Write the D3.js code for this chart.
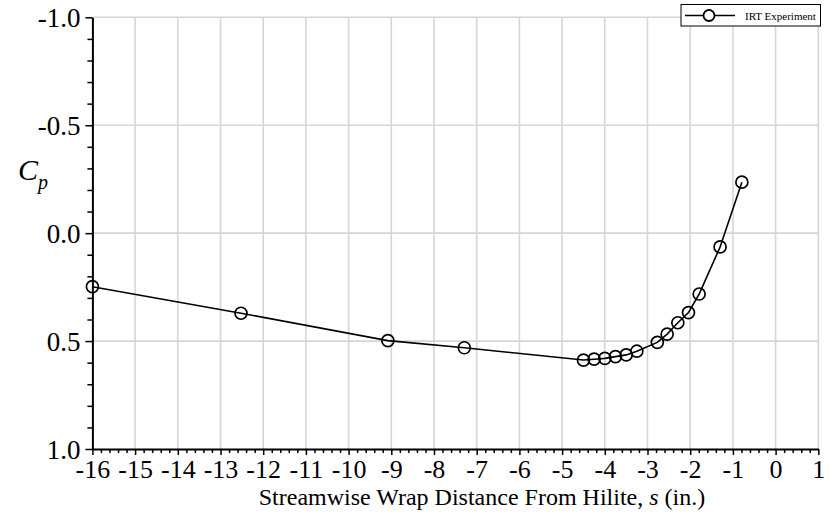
<!DOCTYPE html>
<html>
<head>
<meta charset="utf-8">
<script src="https://cdn.jsdelivr.net/npm/d3@7/dist/d3.min.js"></script>
<style>
  html, body { margin: 0; padding: 0; background: #fff; }
  svg { display: block; }
</style>
</head>
<body>
<svg id="chart" width="830" height="517"></svg>
<script>
// Streamwise wrap distance (in.) and pressure coefficient for the IRT experiment
const sValues = [-16.0, -12.52, -9.08, -7.29, -4.5, -4.25, -4.0, -3.75, -3.5, -3.25, -2.77, -2.54, -2.29, -2.04, -1.79, -1.30, -0.79];
const cpValues = [0.248, 0.371, 0.498, 0.531, 0.588, 0.584, 0.580, 0.572, 0.564, 0.547, 0.506, 0.468, 0.415, 0.368, 0.282, 0.064, -0.236];
const xTickValues = [-16, -15, -14, -13, -12, -11, -10, -9, -8, -7, -6, -5, -4, -3, -2, -1, 0, 1];
const yTickValues = [-1.0, -0.5, 0.0, 0.5, 1.0];
const seriesName = "IRT Experiment";

const FONT = "'Liberation Serif', 'Times New Roman', Times, 'DejaVu Serif', serif";
const svg = d3.select("#chart").style("font-family", FONT);
const plotLeft = 92.4, plotRight = 818.3, plotTop = 17.3, plotBottom = 449;

const x = d3.scaleLinear().domain([-16, 1]).range([plotLeft, plotRight]);
const y = d3.scaleLinear().domain([-1, 1]).range([plotTop, plotBottom]);

// grid lines at major ticks
const grid = svg.append("g").attr("stroke", "#d6d6d6").attr("stroke-width", 1.6);
grid.selectAll("line.vx").data(xTickValues.slice(1)).join("line")
  .attr("x1", d => x(d)).attr("x2", d => x(d)).attr("y1", plotTop).attr("y2", plotBottom);
grid.selectAll("line.hy").data(yTickValues.slice(0, -1)).join("line")
  .attr("x1", plotLeft).attr("x2", plotRight).attr("y1", d => y(d)).attr("y2", d => y(d));

// minor ticks
const xMinor = d3.range(-16, 1.0001, 0.2).filter(v => Math.abs(v - Math.round(v)) > 1e-6);
const yMinor = d3.range(-1, 1.0001, 0.1).filter(v => Math.abs(v * 2 - Math.round(v * 2)) > 1e-6);

// plain hyphen for negative numbers
const fmtX = d => String(d);
const fmtY = d => d.toFixed(1);

const xAxis = svg.append("g").attr("transform", `translate(0,${plotBottom})`)
  .call(d3.axisBottom(x).tickValues(xTickValues).tickFormat(fmtX).tickSizeInner(6).tickSizeOuter(0));
svg.append("g").attr("transform", `translate(0,${plotBottom})`)
  .call(d3.axisBottom(x).tickValues(xMinor).tickFormat("").tickSizeInner(4).tickSizeOuter(0))
  .call(g => g.select(".domain").remove());

const yAxis = svg.append("g").attr("transform", `translate(${plotLeft},0)`)
  .call(d3.axisLeft(y).tickValues(yTickValues).tickFormat(fmtY).tickSizeInner(7).tickSizeOuter(0).tickPadding(5));
svg.append("g").attr("transform", `translate(${plotLeft},0)`)
  .call(d3.axisLeft(y).tickValues(yMinor).tickFormat("").tickSizeInner(5).tickSizeOuter(0))
  .call(g => g.select(".domain").remove());

svg.selectAll("g").attr("font-family", null);
svg.selectAll(".tick line").attr("stroke", "#000").attr("stroke-width", 1.5);
svg.selectAll(".domain").attr("stroke", "#000").attr("stroke-width", 2);
xAxis.selectAll("text").style("font-family", FONT).style("font-size", "26px").attr("fill", "#000")
  .attr("y", 29).attr("dy", null);
yAxis.selectAll("text").style("font-family", FONT).style("font-size", "27px").attr("fill", "#000").attr("dy", "0.34em");

// axis titles
const xt = svg.append("text").attr("x", 482).attr("y", 505)
  .attr("text-anchor", "middle").style("font-family", FONT).style("font-size", "24px");
xt.append("tspan").text("Streamwise Wrap Distance From Hilite, ");
xt.append("tspan").attr("font-style", "italic").text("s");
xt.append("tspan").text(" (in.)");

const yt = svg.append("text").attr("x", 18).attr("y", 180).style("font-family", FONT).style("font-size", "30px").attr("font-style", "italic");
yt.append("tspan").text("C");
yt.append("tspan").style("font-size", "20px").attr("dy", 9).text("p");

// data series
const pts = sValues.map((s, i) => [s, cpValues[i]]);
svg.append("path").datum(pts)
  .attr("fill", "none").attr("stroke", "#000").attr("stroke-width", 1.6)
  .attr("d", d3.line().x(d => x(d[0])).y(d => y(d[1])));
svg.append("g").selectAll("circle").data(pts).join("circle")
  .attr("cx", d => x(d[0])).attr("cy", d => y(d[1])).attr("r", 6)
  .attr("fill", "none").attr("stroke", "#000").attr("stroke-width", 1.7);

// legend
const lg = svg.append("g");
lg.append("rect").attr("x", 681).attr("y", 4.5).attr("width", 139.5).attr("height", 21.5)
  .attr("fill", "#fff").attr("stroke", "#000").attr("stroke-width", 1);
lg.append("line").attr("x1", 685).attr("x2", 735).attr("y1", 15.5).attr("y2", 15.5)
  .attr("stroke", "#000").attr("stroke-width", 1.6);
lg.append("circle").attr("cx", 709).attr("cy", 15.5).attr("r", 5.5)
  .attr("fill", "#fff").attr("stroke", "#000").attr("stroke-width", 1.8);
lg.append("text").attr("x", 745).attr("y", 19.5).style("font-family", FONT).style("font-size", "11px").text(seriesName);
</script>
</body>
</html>
